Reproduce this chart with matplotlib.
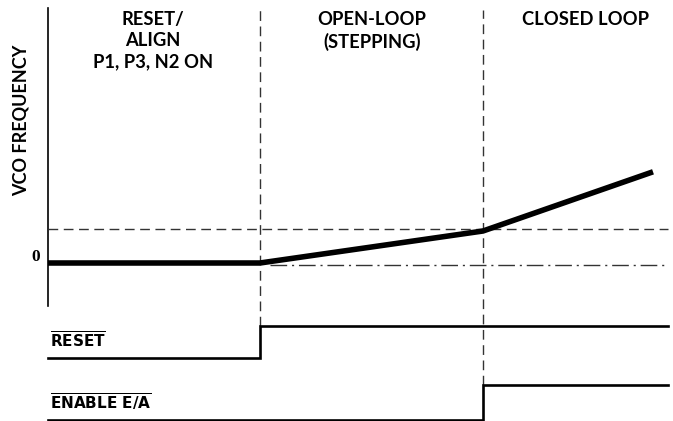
import matplotlib
matplotlib.use("Agg")
import matplotlib.pyplot as plt

# ---- data (time in arbitrary units, frequency in arbitrary units) ----
phase_bounds = [2.12, 4.35]            # reset->open loop, open->closed
vco_t = [0.0, 2.12, 4.35, 6.05]
vco_f = [0.0, 0.0, 1.0, 2.85]
threshold_f = 1.06
t_end = 6.20
reset_t = [0.0, 2.12, 2.12, 6.20]
reset_v = [-2.97, -2.97, -1.97, -1.97]
enable_t = [0.0, 4.35, 4.35, 6.20]
enable_v = [-4.91, -4.91, -3.81, -3.81]
phase_labels = ["RESET/\nALIGN\nP1, P3, N2 ON", "OPEN-LOOP\n(STEPPING)", "CLOSED LOOP"]
phase_label_t = [1.05, 3.24, 5.38]

font = "Lato"
fig = plt.figure(figsize=(6.73, 4.21), dpi=100)
ax = fig.add_axes([0, 0, 1, 1])
ax.set_xlim(-0.48, 6.25)
ax.set_ylim((263 - 421) / 32, 263 / 32)
ax.axis("off")

top = (263 - 8) / 32
# y axis line
ax.plot([0, 0], [(263 - 306) / 32, top], color="black", lw=1.2)

# phase boundaries
ax.plot([phase_bounds[0]] * 2, [reset_v[-1], top - 0.05], color="#333333", lw=1.0,
        dashes=(7, 4))
ax.plot([phase_bounds[1]] * 2, [enable_v[-1], top - 0.05], color="#333333", lw=1.0,
        dashes=(7, 4))

# threshold dashed
ax.plot([0, t_end], [threshold_f, threshold_f], color="#333333", lw=1.0, dashes=(7, 4))
# zero dash-dot
ax.plot([phase_bounds[0] + 0.1, t_end], [-0.05, -0.05], color="#333333", lw=1.0,
        dashes=(12, 3.5, 1.5, 3.5))

# VCO frequency
ax.plot(vco_t, vco_f, color="black", lw=4.0, solid_capstyle="butt", solid_joinstyle="miter")

# signals
ax.plot(reset_t, reset_v, color="black", lw=1.9, solid_joinstyle="miter")
ax.plot(enable_t, enable_v, color="black", lw=1.9, solid_joinstyle="miter")

# labels
for lbl, t in zip(phase_labels, phase_label_t):
    ax.text(t, (263 - 11) / 32, lbl, ha="center", va="top", fontsize=13.2, fontweight="bold",
            family=font, linespacing=1.3)

ax.text(-0.27, (263 - 120) / 32, "VCO FREQUENCY", rotation=90, ha="center", va="center",
        fontsize=13, fontweight="bold", family=font)
ax.text(-0.12, 0.18, "0", ha="center", va="center", fontsize=12.5, fontweight="bold",
        family="Liberation Serif")
ax.text(0.02, reset_v[0] + 0.22, r"$\overline{\mathbf{RESET}}$", ha="left", va="bottom",
        fontsize=11)
ax.text(0.02, enable_v[0] + 0.22, r"$\overline{\mathbf{ENABLE\ E/A}}$", ha="left", va="bottom",
        fontsize=11)

fig.savefig("out.png", dpi=100)
